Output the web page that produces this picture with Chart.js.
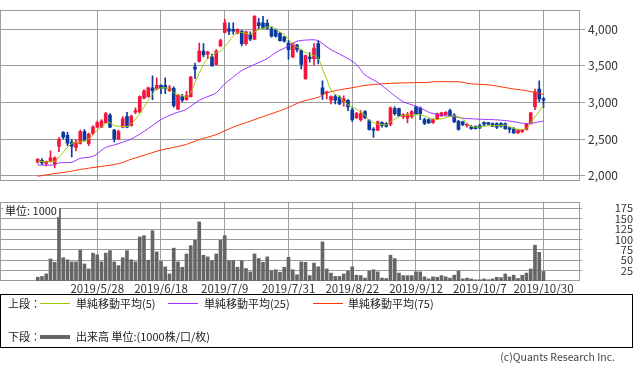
<!DOCTYPE html>
<html lang="ja">
<head>
<meta charset="utf-8">
<title>株価チャート</title>
<script src="https://cdn.jsdelivr.net/npm/chart.js@4.4.1/dist/chart.umd.min.js"></script>
<style>
  html,body{margin:0;padding:0;background:#fff;}
  body{font-family:"Noto Sans CJK JP","Noto Sans",sans-serif;color:#222;}
  #wrap{position:relative;width:633px;height:375px;overflow:hidden;}
  #priceCv{position:absolute;left:0;top:0;}
  #volCv{position:absolute;left:0;top:195px;}
  .unit{position:absolute;left:3px;top:203px;font-size:11px;line-height:14px;background:#fff;padding:0 2px;}
  .legend{position:absolute;left:0;top:294px;width:631px;height:52px;border:1px solid #000;font-size:11px;}
  .legend span{position:absolute;line-height:14px;white-space:nowrap;}
  .legend i{position:absolute;width:30px;}
  .copy{position:absolute;right:18px;top:350px;font-size:10.5px;line-height:14px;color:#444;}
</style>
</head>
<body>
<div id="wrap">
  <canvas id="priceCv" width="633" height="191"></canvas>
  <canvas id="volCv" width="633" height="100"></canvas>
  <div class="unit">単位: 1000</div>
  <div class="legend">
    <span style="left:7px;top:1px">上段：</span>
    <i style="left:39px;top:8px;height:1px;background:#99cc00"></i>
    <span style="left:75px;top:1px">単純移動平均(5)</span>
    <i style="left:167px;top:8px;height:1px;background:#9933ff"></i>
    <span style="left:203px;top:1px">単純移動平均(25)</span>
    <i style="left:312px;top:8px;height:1px;background:#ff3300"></i>
    <span style="left:347px;top:1px">単純移動平均(75)</span>
    <span style="left:7px;top:34px">下段：</span>
    <i style="left:39px;top:40px;height:4px;background:#666"></i>
    <span style="left:75px;top:34px">出来高 単位:(1000株/口/枚)</span>
  </div>
  <div class="copy">(c)Quants Research Inc.</div>
</div>
<script>
// x axis: trading-day index, labelled every 15 sessions
const tickIndex = [14, 29, 44, 59, 74, 89, 104, 119];
const tickLabels = ['2019/5/28', '2019/6/18', '2019/7/9', '2019/7/31', '2019/8/22', '2019/9/12', '2019/10/7', '2019/10/30'];
const priceTicks = [2000, 2500, 3000, 3500, 4000];
const volumeTicks = [25, 50, 75, 100, 125, 150, 175];

// daily OHLC (yen), 2019/5/8 .. 2019/10/30
const opens = [
  2183, 2211, 2167, 2195, 2159, 2399, 2590, 2549, 2460, 2386,
  2439, 2602, 2435, 2573, 2663, 2663, 2724, 2826, 2622, 2500,
  2663, 2805, 2683, 2866, 2866, 3058, 3078, 3200, 3183, 3232,
  3232, 3159, 3192, 2907, 3078, 3037, 3078, 3484, 3558, 3700,
  3659, 3619, 3517, 3769, 3956, 4005, 3997, 3944, 3972, 3802,
  3924, 3863, 4086, 4086, 4078, 4005, 3985, 3944, 3891, 3810,
  3619, 3781, 3712, 3322, 3619, 3598, 3802, 3200, 3131, 3029,
  3078, 3070, 3009, 3029, 2899, 2793, 2765, 2874, 2752, 2630,
  2622, 2724, 2712, 2704, 2915, 2915, 2805, 2785, 2805, 2939,
  2927, 2765, 2765, 2724, 2777, 2817, 2834, 2887, 2826, 2744,
  2736, 2683, 2671, 2671, 2683, 2724, 2724, 2712, 2712, 2712,
  2712, 2655, 2643, 2582, 2602, 2630, 2712, 2939, 3183, 3049
];
const highs = [
  2232, 2232, 2203, 2338, 2256, 2521, 2602, 2590, 2492, 2492,
  2622, 2630, 2582, 2683, 2744, 2765, 2866, 2846, 2634, 2622,
  2805, 2866, 2826, 2927, 3090, 3171, 3208, 3362, 3334, 3240,
  3334, 3232, 3212, 3110, 3110, 3151, 3354, 3537, 3810, 3802,
  3700, 3659, 3720, 3863, 4135, 4086, 4086, 4005, 3980, 3972,
  3964, 4184, 4147, 4176, 4127, 4025, 4005, 3956, 3903, 3842,
  3810, 3793, 3720, 3647, 3680, 3802, 3842, 3293, 3151, 3090,
  3102, 3090, 3090, 3037, 2927, 2866, 2887, 2887, 2765, 2655,
  2744, 2736, 2724, 2939, 2939, 2923, 2846, 2866, 2887, 2948,
  2935, 2785, 2777, 2777, 2854, 2866, 2874, 2907, 2846, 2752,
  2744, 2712, 2683, 2679, 2704, 2736, 2728, 2720, 2720, 2724,
  2720, 2663, 2655, 2630, 2630, 2712, 2866, 3183, 3293, 3070
];
const lows = [
  2171, 2150, 2134, 2183, 2106, 2329, 2500, 2411, 2256, 2338,
  2431, 2472, 2411, 2561, 2655, 2655, 2716, 2655, 2460, 2492,
  2655, 2655, 2675, 2846, 2858, 3049, 3070, 3037, 3171, 3118,
  3118, 3151, 2935, 2899, 3009, 3029, 3070, 3322, 3550, 3619,
  3598, 3493, 3509, 3761, 3948, 3924, 3932, 3936, 3769, 3781,
  3842, 3855, 4005, 4005, 3997, 3891, 3891, 3834, 3822, 3590,
  3611, 3688, 3456, 3314, 3550, 3509, 3525, 3041, 3049, 2980,
  2980, 2968, 2948, 2887, 2736, 2777, 2744, 2777, 2622, 2521,
  2614, 2663, 2663, 2683, 2826, 2809, 2777, 2720, 2785, 2840,
  2765, 2695, 2712, 2712, 2769, 2809, 2826, 2809, 2724, 2622,
  2683, 2663, 2630, 2634, 2643, 2683, 2695, 2667, 2643, 2663,
  2630, 2582, 2578, 2578, 2590, 2622, 2704, 2899, 3009, 2927
];
const closes = [
  2224, 2175, 2195, 2244, 2244, 2500, 2525, 2443, 2399, 2460,
  2602, 2480, 2569, 2663, 2724, 2744, 2846, 2663, 2500, 2602,
  2777, 2663, 2813, 2887, 3078, 3159, 3200, 3159, 3232, 3192,
  3192, 3200, 2956, 3098, 3029, 3094, 3346, 3452, 3700, 3647,
  3688, 3497, 3700, 3842, 4086, 3972, 3972, 3997, 3802, 3964,
  3863, 4176, 4046, 4013, 4013, 3903, 3903, 3842, 3834, 3720,
  3802, 3720, 3517, 3639, 3598, 3741, 3598, 3110, 3143, 3078,
  3029, 2980, 3049, 2939, 2765, 2846, 2846, 2793, 2630, 2622,
  2736, 2683, 2671, 2927, 2846, 2817, 2834, 2834, 2874, 2846,
  2846, 2712, 2720, 2765, 2846, 2858, 2866, 2817, 2736, 2630,
  2695, 2704, 2643, 2643, 2651, 2704, 2704, 2675, 2663, 2675,
  2643, 2630, 2582, 2622, 2622, 2704, 2858, 3143, 3049, 3029
];
// volume, thousand shares
const volumes = [
  9, 11, 17, 53, 45, 175, 56, 51, 46, 46,
  74, 41, 29, 67, 63, 46, 67, 73, 46, 37,
  56, 73, 51, 46, 106, 109, 50, 121, 70, 47,
  34, 17, 79, 46, 33, 65, 85, 98, 142, 62,
  58, 49, 65, 98, 109, 49, 49, 33, 49, 30,
  22, 65, 54, 45, 58, 25, 27, 21, 33, 57,
  27, 15, 46, 45, 13, 43, 34, 94, 29, 19,
  11, 11, 17, 24, 34, 14, 13, 7, 24, 27,
  22, 7, 6, 62, 54, 19, 13, 13, 13, 22,
  22, 10, 5, 10, 9, 13, 10, 7, 14, 24,
  5, 7, 5, 3, 3, 5, 3, 5, 9, 8,
  17, 10, 14, 6, 14, 19, 29, 86, 69, 23
];

// moving averages (day index / value)
const ma5Idx = [0,4,5,8,10,12,14,16,17,18,21,22,24,26,27,28,30,31,32,34,35,36,37,39,40,41,42,43,44,46,47,48,50,51,53,55,56,58,59,60,62,63,65,66,67,68,69,71,73,75,77,78,80,82,83,85,86,88,90,92,94,96,98,100,101,102,104,106,109,110,112,114,115,116,117,119];
const ma5Val = [2195,2195,2256,2439,2460,2500,2622,2712,2724,2683,2671,2704,2846,3029,3110,3183,3200,3183,3131,3090,3078,3131,3273,3517,3598,3639,3680,3700,3761,3903,3956,3956,3932,3964,4013,4037,3997,3924,3863,3793,3720,3680,3639,3607,3456,3314,3171,3070,2968,2907,2826,2753,2704,2695,2736,2805,2826,2826,2834,2793,2765,2793,2817,2777,2712,2671,2663,2683,2683,2691,2643,2630,2643,2724,2805,2956];
const ma25Idx = [0,4,5,8,10,13,16,18,22,26,29,32,35,38,41,42,44,46,48,51,54,56,59,61,63,65,66,69,73,75,77,80,82,84,86,89,90,92,94,96,98,100,103,107,110,112,114,116,118,119];
const ma25Val = [2146,2146,2175,2183,2236,2264,2386,2419,2500,2643,2765,2846,2907,3029,3102,3131,3253,3346,3436,3517,3598,3680,3769,3834,3850,3854,3842,3720,3598,3517,3375,3273,3183,3090,3009,2948,2927,2866,2834,2817,2805,2785,2773,2765,2752,2736,2716,2712,2736,2744];
const ma75Idx = [0,3,7,11,15,19,22,26,29,32,35,38,42,46,50,54,58,62,66,68,71,74,77,81,85,92,93,99,102,106,109,112,115,119];
const ma75Val = [1992,2020,2053,2094,2126,2163,2224,2297,2350,2386,2427,2492,2561,2663,2744,2826,2907,3009,3070,3131,3171,3200,3232,3253,3265,3273,3281,3281,3253,3240,3212,3183,3159,3110];

const UP = '#f5143c', DOWN = '#0a3a9e', GRID = '#9d9d9d';
const FONT = '"Noto Sans CJK JP", "Noto Sans", sans-serif';
const X_MIN = -8.88, X_MAX = 127.59;

const idx = volumes.map((_, i) => i);
const candleColor = idx.map(i => closes[i] >= opens[i] ? UP : DOWN);
const pairs = (xs, ys) => xs.map((x, k) => ({x: x, y: ys[k]}));

// gray frame round the plot area
const framePlugin = {
  id: 'frame',
  beforeDatasetsDraw(chart){
    const a = chart.chartArea, ctx = chart.ctx;
    ctx.save();
    ctx.strokeStyle = GRID;
    ctx.lineWidth = 1;
    ctx.strokeRect(Math.round(a.left) + 0.5, Math.round(a.top) + 0.5,
      Math.round(a.right - a.left) - 1, Math.round(a.bottom - a.top) - 1);
    ctx.restore();
  }
};

function xScale(showLabels){
  return {
    type: 'linear', min: X_MIN, max: X_MAX, offset: false,
    afterBuildTicks: s => { s.ticks = tickIndex.map(v => ({value: v})); },
    afterFit: s => { s.height = showLabels ? 14 : 0; },
    ticks: {
      display: showLabels, autoSkip: false, maxRotation: 0, minRotation: 0, padding: 1,
      color: '#333', font: {size: 11.5, family: FONT},
      callback: v => tickLabels[tickIndex.indexOf(v)]
    },
    grid: {color: GRID, drawTicks: false, offset: false},
    border: {display: false}
  };
}

const lineDs = (label, xs, ys, color) => ({
  type: 'line', label: label, data: pairs(xs, ys), borderColor: color, borderWidth: 1,
  pointRadius: 0, tension: 0.25, order: 0
});

new Chart(document.getElementById('priceCv'), {
  type: 'bar',
  data: {
    datasets: [
      lineDs('単純移動平均(5)', ma5Idx, ma5Val, '#99cc00'),
      lineDs('単純移動平均(25)', ma25Idx, ma25Val, '#9933ff'),
      lineDs('単純移動平均(75)', ma75Idx, ma75Val, '#ff3300'),
      {label: 'body', data: idx.map(i => ({x: i, y: [opens[i], closes[i]]})),
        backgroundColor: candleColor, barThickness: 3, minBarLength: 1, grouped: false, order: 1},
      {label: 'wick', data: idx.map(i => ({x: i, y: [lows[i], highs[i]]})),
        backgroundColor: candleColor, barThickness: 1, grouped: false, order: 2}
    ]
  },
  options: {
    responsive: false, animation: false,
    layout: {padding: 0},
    plugins: {legend: {display: false}, tooltip: {enabled: false}},
    scales: {
      x: xScale(false),
      y: {
        position: 'right', min: 1930, max: 4258,
        afterBuildTicks: s => { s.ticks = priceTicks.map(v => ({value: v})); },
        afterFit: s => { s.width = 53; },
        ticks: {color: '#333', font: {size: 12, family: FONT}, padding: 3, autoSkip: false,
          callback: v => v.toLocaleString('en-US')},
        grid: {color: GRID, tickLength: 5},
        border: {display: false}
      }
    }
  },
  plugins: [framePlugin]
});

new Chart(document.getElementById('volCv'), {
  type: 'bar',
  data: {
    datasets: [{
      label: '出来高', data: idx.map(i => ({x: i, y: volumes[i]})),
      backgroundColor: '#666666', barThickness: 3
    }]
  },
  options: {
    responsive: false, animation: false,
    layout: {padding: {top: 7, left: 0, right: 0, bottom: 0}},
    plugins: {legend: {display: false}, tooltip: {enabled: false}},
    scales: {
      x: xScale(true),
      y: {
        position: 'right', min: 0, max: 190,
        afterBuildTicks: s => { s.ticks = volumeTicks.map(v => ({value: v})); },
        afterFit: s => { s.width = 53; },
        ticks: {color: '#333', font: {size: 11, family: FONT, lineHeight: 1}, padding: 1,
          crossAlign: 'far', autoSkip: false},
        grid: {color: GRID, tickLength: 2},
        border: {display: false}
      }
    }
  },
  plugins: [framePlugin]
});
</script>
</body>
</html>
